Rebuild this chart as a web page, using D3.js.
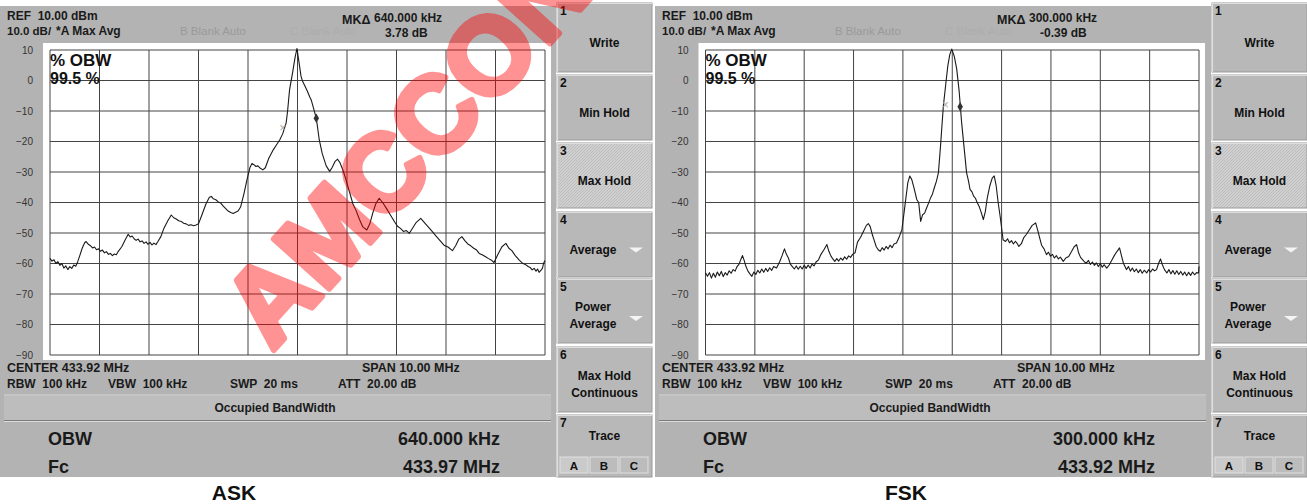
<!DOCTYPE html>
<html><head><meta charset="utf-8">
<script src="https://cdn.jsdelivr.net/npm/d3@7"></script>
<style>body{margin:0;background:#fff} svg{display:block} text{font-family:"Liberation Sans",Arial,sans-serif;white-space:pre}</style>
</head><body><svg id="c" width="1307" height="504"></svg>
<script>
// ---------- DATA ----------
const askTrace = [[-5.00,-58.3],[-4.96,-59.2],[-4.92,-58.8],[-4.88,-60.0],[-4.84,-59.4],[-4.80,-60.6],[-4.76,-60.0],[-4.72,-61.5],[-4.68,-60.8],[-4.64,-62.0],[-4.60,-61.0],[-4.56,-61.6],[-4.52,-60.5],[-4.48,-60.9],[-4.44,-59.4],[-4.40,-57.5],[-4.35,-55.0],[-4.30,-53.2],[-4.27,-52.8],[-4.22,-53.8],[-4.18,-54.2],[-4.14,-54.9],[-4.10,-54.6],[-4.06,-55.5],[-4.02,-55.2],[-3.98,-56.0],[-3.94,-55.6],[-3.90,-56.5],[-3.86,-56.1],[-3.82,-57.0],[-3.78,-56.7],[-3.74,-57.4],[-3.70,-56.9],[-3.66,-57.1],[-3.62,-56.0],[-3.55,-54.5],[-3.48,-52.2],[-3.42,-50.4],[-3.38,-51.3],[-3.34,-51.0],[-3.30,-51.9],[-3.26,-52.4],[-3.22,-52.0],[-3.18,-52.9],[-3.14,-52.6],[-3.10,-53.4],[-3.06,-52.9],[-3.02,-53.7],[-2.98,-53.1],[-2.94,-53.9],[-2.90,-53.3],[-2.86,-53.8],[-2.82,-52.8],[-2.76,-51.2],[-2.70,-48.5],[-2.62,-46.0],[-2.55,-44.1],[-2.50,-45.0],[-2.45,-45.4],[-2.40,-46.0],[-2.35,-46.2],[-2.30,-46.8],[-2.25,-47.0],[-2.20,-47.5],[-2.15,-47.3],[-2.10,-47.6],[-2.05,-47.4],[-2.00,-47.0],[-1.93,-44.0],[-1.85,-40.5],[-1.78,-38.3],[-1.74,-38.0],[-1.70,-38.8],[-1.65,-39.1],[-1.60,-39.8],[-1.55,-40.2],[-1.50,-41.2],[-1.45,-42.0],[-1.40,-42.8],[-1.35,-43.3],[-1.30,-43.6],[-1.25,-43.2],[-1.20,-42.8],[-1.15,-41.5],[-1.08,-37.0],[-1.02,-32.5],[-0.96,-28.5],[-0.92,-27.2],[-0.88,-27.6],[-0.84,-28.2],[-0.80,-28.0],[-0.75,-28.8],[-0.70,-29.3],[-0.65,-28.6],[-0.58,-25.5],[-0.50,-23.0],[-0.42,-21.0],[-0.36,-19.5],[-0.30,-17.5],[-0.23,-14.0],[-0.20,-10.0],[-0.16,-3.0],[-0.10,2.5],[-0.05,7.5],[-0.01,10.5],[0.03,6.0],[0.07,1.5],[0.10,-0.2],[0.15,-1.8],[0.20,-3.5],[0.25,-5.5],[0.28,-6.5],[0.33,-9.5],[0.38,-12.4],[0.44,-19.5],[0.50,-24.0],[0.58,-28.0],[0.65,-29.8],[0.70,-28.5],[0.76,-26.5],[0.81,-25.8],[0.86,-27.0],[0.92,-29.5],[0.97,-32.0],[1.05,-36.5],[1.12,-40.5],[1.18,-42.5],[1.25,-45.5],[1.32,-48.0],[1.40,-49.0],[1.46,-47.0],[1.52,-43.5],[1.58,-40.5],[1.65,-38.6],[1.72,-40.0],[1.80,-42.0],[1.88,-44.2],[1.96,-46.3],[2.02,-47.8],[2.08,-48.5],[2.14,-49.5],[2.20,-49.2],[2.26,-50.1],[2.32,-48.5],[2.40,-46.5],[2.49,-45.2],[2.56,-46.5],[2.64,-48.0],[2.72,-49.5],[2.80,-51.0],[2.88,-52.5],[2.96,-54.0],[3.04,-54.6],[3.13,-55.8],[3.20,-54.0],[3.26,-52.0],[3.32,-51.2],[3.38,-52.5],[3.44,-53.6],[3.50,-54.2],[3.56,-55.0],[3.62,-55.6],[3.67,-56.7],[3.74,-57.2],[3.80,-57.8],[3.86,-58.4],[3.92,-58.9],[3.97,-59.7],[4.05,-57.0],[4.13,-54.5],[4.21,-53.4],[4.27,-55.0],[4.33,-55.8],[4.40,-57.4],[4.48,-58.9],[4.54,-59.8],[4.60,-60.3],[4.66,-61.0],[4.70,-61.3],[4.74,-62.1],[4.78,-61.6],[4.82,-62.5],[4.85,-61.8],[4.88,-62.9],[4.92,-62.2],[4.95,-61.5],[4.97,-60.0],[5.00,-59.0]];

const fskTrace = [[-5.00,-63.0],[-4.96,-64.2],[-4.92,-63.0],[-4.88,-64.8],[-4.84,-63.2],[-4.80,-64.5],[-4.76,-62.8],[-4.72,-64.0],[-4.68,-62.6],[-4.64,-64.3],[-4.60,-63.0],[-4.56,-63.8],[-4.52,-62.4],[-4.48,-63.2],[-4.44,-62.0],[-4.40,-62.5],[-4.36,-61.0],[-4.32,-60.2],[-4.28,-58.5],[-4.25,-57.4],[-4.22,-58.8],[-4.18,-61.0],[-4.14,-62.5],[-4.10,-63.4],[-4.06,-64.2],[-4.02,-62.8],[-3.98,-63.6],[-3.94,-62.2],[-3.90,-63.1],[-3.86,-61.8],[-3.82,-62.9],[-3.78,-61.6],[-3.74,-62.6],[-3.70,-61.4],[-3.66,-62.3],[-3.62,-61.0],[-3.56,-61.5],[-3.50,-59.5],[-3.45,-57.5],[-3.40,-55.2],[-3.36,-57.0],[-3.32,-58.2],[-3.28,-60.2],[-3.24,-61.0],[-3.20,-61.8],[-3.16,-60.8],[-3.12,-61.9],[-3.08,-60.9],[-3.04,-61.8],[-3.00,-60.6],[-2.96,-61.6],[-2.92,-60.5],[-2.88,-61.5],[-2.84,-60.2],[-2.80,-60.8],[-2.76,-59.5],[-2.71,-58.8],[-2.66,-57.0],[-2.60,-55.5],[-2.54,-53.8],[-2.50,-56.0],[-2.46,-57.5],[-2.42,-58.5],[-2.38,-59.3],[-2.34,-58.4],[-2.30,-59.2],[-2.26,-58.2],[-2.22,-58.9],[-2.18,-57.8],[-2.14,-58.6],[-2.10,-57.5],[-2.06,-58.0],[-2.02,-57.0],[-1.97,-56.5],[-1.92,-53.0],[-1.86,-51.5],[-1.80,-49.5],[-1.74,-47.5],[-1.70,-46.9],[-1.66,-48.0],[-1.62,-50.5],[-1.58,-52.5],[-1.54,-54.5],[-1.50,-55.5],[-1.46,-56.0],[-1.42,-54.8],[-1.38,-55.6],[-1.34,-54.4],[-1.30,-55.2],[-1.26,-54.0],[-1.22,-54.8],[-1.18,-53.6],[-1.13,-53.3],[-1.08,-51.5],[-1.02,-48.9],[-0.96,-41.2],[-0.90,-33.5],[-0.86,-31.3],[-0.82,-32.5],[-0.77,-35.5],[-0.72,-39.0],[-0.68,-40.0],[-0.64,-46.2],[-0.60,-44.0],[-0.56,-43.5],[-0.52,-41.8],[-0.48,-40.2],[-0.44,-38.5],[-0.40,-37.2],[-0.36,-35.0],[-0.32,-33.0],[-0.28,-30.2],[-0.24,-22.0],[-0.18,-8.3],[-0.13,-1.0],[-0.09,4.8],[-0.05,8.5],[-0.01,10.3],[0.04,8.0],[0.09,3.8],[0.14,-3.5],[0.19,-13.8],[0.24,-22.0],[0.29,-30.2],[0.33,-33.0],[0.36,-35.7],[0.40,-36.5],[0.43,-37.8],[0.47,-38.6],[0.51,-40.2],[0.55,-41.5],[0.59,-43.4],[0.63,-45.6],[0.67,-43.0],[0.71,-38.5],[0.76,-34.6],[0.81,-32.0],[0.85,-31.3],[0.89,-34.5],[0.93,-40.0],[0.97,-44.5],[1.03,-52.2],[1.08,-52.8],[1.12,-51.9],[1.16,-53.2],[1.20,-52.5],[1.24,-53.6],[1.28,-52.7],[1.31,-53.3],[1.35,-54.4],[1.40,-53.5],[1.45,-51.5],[1.50,-50.5],[1.56,-49.0],[1.62,-47.5],[1.69,-46.7],[1.73,-49.0],[1.77,-51.5],[1.81,-54.0],[1.86,-55.2],[1.91,-57.1],[1.95,-56.3],[1.99,-57.6],[2.03,-57.0],[2.07,-58.2],[2.11,-57.4],[2.15,-58.5],[2.19,-57.9],[2.25,-59.3],[2.30,-58.2],[2.36,-57.7],[2.42,-56.0],[2.47,-54.5],[2.52,-53.8],[2.56,-56.5],[2.60,-58.0],[2.64,-58.7],[2.68,-59.5],[2.72,-59.8],[2.76,-59.0],[2.80,-60.3],[2.84,-59.5],[2.88,-60.6],[2.92,-59.8],[2.96,-61.0],[3.00,-60.0],[3.04,-61.2],[3.08,-60.4],[3.13,-61.5],[3.18,-60.5],[3.23,-59.0],[3.28,-57.5],[3.34,-56.0],[3.39,-54.9],[3.43,-57.5],[3.47,-60.0],[3.53,-62.0],[3.57,-61.0],[3.61,-62.5],[3.65,-61.5],[3.69,-62.7],[3.73,-61.8],[3.77,-63.0],[3.81,-62.0],[3.85,-63.2],[3.89,-62.2],[3.94,-63.1],[3.98,-62.0],[4.02,-62.8],[4.06,-61.8],[4.10,-62.4],[4.14,-62.0],[4.18,-60.0],[4.22,-58.5],[4.26,-60.5],[4.30,-62.0],[4.35,-63.1],[4.39,-62.0],[4.43,-63.4],[4.47,-62.3],[4.51,-63.5],[4.55,-62.4],[4.59,-63.6],[4.63,-62.6],[4.67,-63.8],[4.71,-62.8],[4.75,-64.0],[4.79,-62.9],[4.83,-63.9],[4.87,-62.8],[4.91,-63.7],[4.95,-63.0],[4.99,-63.1],[5.00,-61.0]];

const yTickValues = [10,0,-10,-20,-30,-40,-50,-60,-70,-80,-90];
const xGridValues = [-5,-4,-3,-2,-1,0,1,2,3,4,5];
const panelNames = ["ASK","FSK"];
const mkDeltaFreq = ["640.000 kHz","300.000 kHz"];
const mkDeltaDb = ["3.78 dB","-0.39 dB"];
const obwValues = ["640.000 kHz","300.000 kHz"];
const fcValues = ["433.97 MHz","433.92 MHz"];
const refMarkers = [[-0.30,-15.5],[-0.14,-8.0]];
const deltaMarkers = [[0.38,-12.4],[0.16,-8.6]];
const softkeyLabels = [["Write"],["Min Hold"],["Max Hold"],["Average"],["Power","Average"],["Max Hold","Continuous"],["Trace"]];
const traceButtons = ["A","B","C"];

// ---------- LAYOUT ----------
const svg = d3.select("#c");
const defs = svg.append("defs");
const pat = defs.append("pattern").attr("id","hatch").attr("width",3).attr("height",3)
  .attr("patternUnits","userSpaceOnUse");
pat.append("rect").attr("width",3).attr("height",3).attr("fill","#cfcfcf");
pat.append("path").attr("d","M0,3 L3,0").attr("stroke","#b9b9b9").attr("stroke-width",0.8);

svg.append("rect").attr("width",1307).attr("height",504).attr("fill","#fff");

const panels = [
  {ox:0, px0:50, px1:545, data:askTrace},
  {ox:655, px0:705.5, px1:1199, data:fskTrace}
];
const py0 = 50, py1 = 355;

panels.forEach((p, i) => {
  const g = svg.append("g");
  const ox = p.ox;
  g.append("rect").attr("x",ox).attr("y",6).attr("width",556).attr("height",471).attr("fill","#b3b3b3");
  g.append("rect").attr("x",p.px0-7).attr("y",43).attr("width",(p.px1-p.px0)+13).attr("height",317)
    .attr("fill","#fff");
  const x = d3.scaleLinear().domain([-5,5]).range([p.px0,p.px1]);
  const y = d3.scaleLinear().domain([-90,10]).range([py1,py0]);

  g.append("g").selectAll("line").data(xGridValues).join("line")
    .attr("x1",d=>x(d)).attr("x2",d=>x(d)).attr("y1",y(10)).attr("y2",y(-90))
    .attr("stroke","#444").attr("stroke-width",1);
  g.append("g").selectAll("line").data(yTickValues).join("line")
    .attr("x1",x(-5)).attr("x2",x(5)).attr("y1",d=>y(d)).attr("y2",d=>y(d))
    .attr("stroke","#444").attr("stroke-width",1);

  const ax = g.append("g").attr("transform",`translate(${p.px0-14},0)`)
    .call(d3.axisLeft(y).tickValues(yTickValues).tickSize(0).tickFormat(d3.format("d")));
  ax.select(".domain").remove();
  ax.selectAll("text").attr("font-size",10).attr("fill","#333").attr("dx",0)
    .attr("font-family","'Liberation Sans',Arial,sans-serif");

  const line = d3.line().x(d=>x(d[0])).y(d=>y(d[1]));
  g.append("path").datum(p.data).attr("d",line).attr("fill","none")
    .attr("stroke","#1a1a1a").attr("stroke-width",1.1).attr("stroke-linejoin","round");

  const rm = refMarkers[i], dm = deltaMarkers[i];
  g.append("text").attr("x",x(rm[0])).attr("y",y(rm[1])+4).attr("text-anchor","middle")
    .attr("font-size",12).attr("fill","#aaa").text("×");
  g.append("path").attr("d",d3.symbol(d3.symbolDiamond,26)())
    .attr("transform",`translate(${x(dm[0])},${y(dm[1])})`).attr("fill","#333");

  g.append("text").attr("x",p.px0).attr("y",66).attr("font-size",17).attr("font-weight","bold")
    .attr("fill","#111").text("% OBW");
  g.append("text").attr("x",p.px0).attr("y",84).attr("font-size",16).attr("font-weight","bold")
    .attr("fill","#111").text("99.5 %");

  const t = (xx,yy,s,opts={}) => g.append("text").attr("x",ox+xx).attr("y",yy)
    .attr("font-size",opts.size||11.5).attr("font-weight",opts.w||"bold")
    .attr("fill",opts.c||"#1a1a1a").attr("text-anchor",opts.a||"start").text(s);
  t(7,20,"REF  10.00 dBm",{size:12});
  t(7,35,"10.0 dB/",{size:11.5});
  t(56,35,"*A Max Avg",{size:12});
  t(180,35,"B Blank Auto",{c:"#9a9a9a",w:"normal"});
  t(290,35,"C Blank Auto",{c:"#adadad",w:"normal"});
  t(342,24,"MKΔ",{size:12.5});
  t(374,22,mkDeltaFreq[i],{size:12});
  t(385,37,mkDeltaDb[i],{size:12});

  t(7,372,"CENTER 433.92 MHz",{size:12.5});
  t(362,372,"SPAN 10.00 MHz",{size:12.5});
  t(7,388,"RBW  100 kHz",{size:12});
  t(108,388,"VBW  100 kHz",{size:12});
  t(230,388,"SWP  20 ms",{size:12});
  t(338,388,"ATT  20.00 dB",{size:12});

  g.append("rect").attr("x",ox+4).attr("y",396).attr("width",547).attr("height",24).attr("fill","#bdbdbd");
  g.append("line").attr("x1",ox+4).attr("x2",ox+551).attr("y1",395).attr("y2",395).attr("stroke","#d6d6d6");
  g.append("line").attr("x1",ox+4).attr("x2",ox+551).attr("y1",420.5).attr("y2",420.5).attr("stroke","#7a7a7a");
  g.append("line").attr("x1",ox+4).attr("x2",ox+551).attr("y1",421.5).attr("y2",421.5).attr("stroke","#dcdcdc");
  t(275,412,"Occupied BandWidth",{a:"middle",size:12});

  t(48,445,"OBW",{size:18});
  t(500,445,obwValues[i],{size:18,a:"end"});
  t(48,473,"Fc",{size:18});
  t(500,473,fcValues[i],{size:18,a:"end"});

  svg.append("text").attr("x",[234,906][i]).attr("y",500).attr("text-anchor","middle")
    .attr("font-size",21).attr("font-weight","bold").attr("fill","#111").text(panelNames[i]);

  const sx = ox + 557, sw = 95;
  const keyY = [3,75,143,212,279,347,415];
  const keyH = [69,65,65,65,64,65,62];
  softkeyLabels.forEach((lab, k) => {
    const ky = keyY[k], kh = keyH[k];
    g.append("rect").attr("x",sx).attr("y",ky).attr("width",sw).attr("height",kh)
      .attr("fill", k===2 ? "url(#hatch)" : "#b8b8b8").attr("stroke","#9a9a9a").attr("stroke-width",1);
    g.append("path").attr("d",`M${sx+0.5},${ky+kh} L${sx+0.5},${ky+0.5} L${sx+sw},${ky+0.5}`)
      .attr("fill","none").attr("stroke","#dedede").attr("stroke-width",1.2);
    g.append("text").attr("x",sx+3).attr("y",ky+12).attr("font-size",12).attr("font-weight","bold")
      .attr("fill","#111").text(String(k+1));
    let cy;
    if (k===6) cy = ky+25;
    else if (lab.length===2) cy = ky + kh/2;
    else cy = ky + kh/2 + 9;
    const cx = (k===3||k===4) ? sx+36 : sx+sw/2;
    lab.forEach((s, j) => {
      g.append("text").attr("x",cx).attr("y",cy + j*17).attr("text-anchor","middle")
        .attr("font-size",12).attr("font-weight","bold").attr("fill","#111").text(s);
    });
    if (k===3 || k===4) {
      const ty = (k===3) ? ky+kh/2+5 : ky+kh/2+7;
      g.append("path").attr("d",`M${sx+72},${ty-2} L${sx+86},${ty-2} L${sx+79},${ty+3} Z`).attr("fill","#f4f4f4");
    }
    if (k===6) {
      traceButtons.forEach((b, m) => {
        const bx = sx + 3 + m*30;
        g.append("rect").attr("x",bx).attr("y",ky+42).attr("width",28).attr("height",16)
          .attr("fill", m===0 ? "#cacaca" : "#bcbcbc").attr("stroke","#e0e0e0");
        g.append("text").attr("x",bx+14).attr("y",ky+55).attr("text-anchor","middle")
          .attr("font-size",11.5).attr("font-weight","bold").attr("fill","#111").text(b);
      });
    }
  });
});

// watermark (left image)
svg.append("g").attr("opacity",0.42)
  .append("text").attr("transform","translate(272,352) rotate(-48)")
  .attr("font-size",108).attr("font-weight","bold").attr("fill","#ff0000")
  .attr("stroke","#ff0000").attr("stroke-width",6).attr("stroke-linejoin","round")
  .text("AMCCON");
</script></body></html>
